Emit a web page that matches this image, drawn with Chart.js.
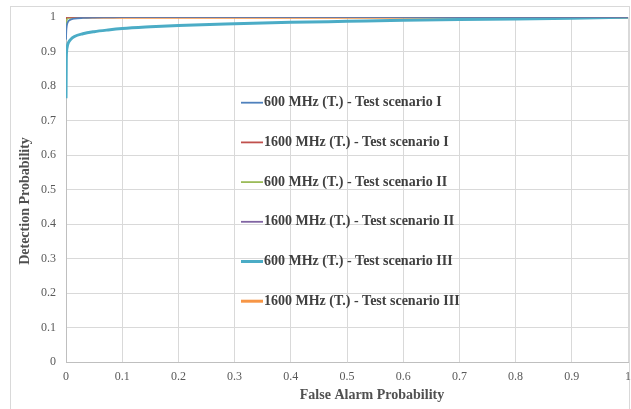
<!DOCTYPE html>
<html>
<head>
<meta charset="utf-8">
<script src="https://cdn.jsdelivr.net/npm/chart.js@4/dist/chart.umd.min.js"></script>
<style>
  html, body { margin: 0; padding: 0; background: #fff; }
  #wrap { width: 631px; height: 409px; position: relative; }
</style>
</head>
<body>
<div id="wrap"><canvas id="rocChart" width="631" height="409"></canvas></div>
<script>
// false alarm probability samples (shared by every curve)
const falseAlarm = [0, 0.0005, 0.001, 0.002, 0.004, 0.008, 0.015, 0.03, 0.05, 0.075, 0.1, 0.15, 0.2, 0.3, 0.4, 0.5, 0.6, 0.7, 0.8, 0.9, 1];

const pd600_I    = [0.935, 0.96, 0.97, 0.98, 0.988, 0.993, 0.996, 0.998, 0.999, 0.9995, 1, 1, 1, 1, 1, 1, 1, 1, 1, 1, 1];
const pd1600_I   = [0.995, 0.999, 1, 1, 1, 1, 1, 1, 1, 1, 1, 1, 1, 1, 1, 1, 1, 1, 1, 1, 1];
const pd600_II   = [0.97, 0.985, 0.99, 0.995, 0.998, 0.999, 1, 1, 1, 1, 1, 1, 1, 1, 1, 1, 1, 1, 1, 1, 1];
const pd1600_II  = [0.998, 1, 1, 1, 1, 1, 1, 1, 1, 1, 1, 1, 1, 1, 1, 1, 1, 1, 1, 1, 1];
const pd600_III  = [0.765, 0.875, 0.9, 0.913, 0.925, 0.935, 0.944, 0.952, 0.958, 0.963, 0.967, 0.972, 0.976, 0.981, 0.985, 0.988, 0.991, 0.993, 0.995, 0.997, 1.0];
const pd1600_III = [1, 1, 1, 1, 1, 1, 1, 1, 1, 1, 1, 1, 1, 1, 1, 1, 1, 1, 1, 1, 1];

const seriesNames = [
  '600 MHz (T.) - Test scenario I',
  '1600 MHz (T.) - Test scenario I',
  '600 MHz (T.) - Test scenario II',
  '1600 MHz (T.) - Test scenario II',
  '600 MHz (T.) - Test scenario III',
  '1600 MHz (T.) - Test scenario III'
];
const seriesData = [pd600_I, pd1600_I, pd600_II, pd1600_II, pd600_III, pd1600_III];
const seriesColors = ['#4F81BD', '#C0504D', '#9BBB59', '#8064A2', '#4BACC6', '#F79646'];
const seriesWidths = [1.8, 1.8, 1.8, 1.8, 3, 3];

const xTicks = [0, 0.1, 0.2, 0.3, 0.4, 0.5, 0.6, 0.7, 0.8, 0.9, 1];
const yTicks = [0, 0.1, 0.2, 0.3, 0.4, 0.5, 0.6, 0.7, 0.8, 0.9, 1];

const serif = '"Liberation Serif", "Times New Roman", serif';

const datasets = seriesNames.map((name, i) => ({
  label: name,
  data: falseAlarm.map((fa, j) => ({ x: fa, y: seriesData[i][j] })),
  borderColor: seriesColors[i],
  backgroundColor: seriesColors[i],
  borderWidth: seriesWidths[i],
  pointRadius: 0,
  fill: false,
  cubicInterpolationMode: 'monotone'
}));

// frame, legend and axis titles drawn by hand
const decor = {
  id: 'decor',
  beforeDraw(chart) {
    const ctx = chart.ctx;
    ctx.save();
    ctx.strokeStyle = '#d9d9d9';
    ctx.lineWidth = 1;
    ctx.strokeRect(10.5, 6.5, 619, 410);
    ctx.restore();
  },
  afterDraw(chart) {
    const ctx = chart.ctx;
    const area = chart.chartArea;
    ctx.save();

    // legend
    ctx.font = 'bold 14px ' + serif;
    ctx.fillStyle = '#404040';
    ctx.textBaseline = 'middle';
    ctx.textAlign = 'left';
    const lx = area.left + 175;
    chart.data.datasets.forEach((ds, i) => {
      const ly = area.top + 85.5 + i * 39.7;
      ctx.strokeStyle = ds.borderColor;
      ctx.lineWidth = ds.borderWidth;
      ctx.beginPath();
      ctx.moveTo(lx, ly);
      ctx.lineTo(lx + 22, ly);
      ctx.stroke();
      ctx.fillText(ds.label, lx + 23, ly);
    });

    // axis titles
    ctx.fillStyle = '#505050';
    ctx.textAlign = 'center';
    ctx.fillText('False Alarm Probability', 372, 395);
    ctx.translate(25, 201);
    ctx.rotate(-Math.PI / 2);
    ctx.fillText('Detection Probability', 0, 0);
    ctx.restore();
  }
};

new Chart(document.getElementById('rocChart').getContext('2d'), {
  type: 'line',
  data: { datasets: datasets },
  options: {
    responsive: false,
    animation: false,
    layout: { padding: { left: 11, right: 3, top: 17, bottom: 0 } },
    plugins: { legend: { display: false }, tooltip: { enabled: false } },
    scales: {
      x: {
        type: 'linear',
        min: 0,
        max: 1,
        afterBuildTicks: s => { s.ticks = xTicks.map(v => ({ value: v })); },
        afterFit: s => { s.height = 47; s.paddingRight = 0; s.paddingLeft = 0; },
        grid: { color: '#d9d9d9', drawTicks: false },
        border: { color: '#bfbfbf' },
        ticks: {
          padding: 8,
          color: '#595959',
          font: { family: serif, size: 12 },
          maxRotation: 0,
          callback: v => String(Math.round(v * 10) / 10)
        }
      },
      y: {
        min: 0,
        max: 1,
        afterBuildTicks: s => { s.ticks = yTicks.map(v => ({ value: v })); },
        afterFit: s => { s.width = 55; },
        grid: { color: '#d9d9d9', drawTicks: false },
        border: { color: '#bfbfbf' },
        ticks: {
          padding: 10,
          color: '#595959',
          font: { family: serif, size: 12 },
          callback: v => String(Math.round(v * 10) / 10)
        }
      }
    }
  },
  plugins: [decor]
});
</script>
</body>
</html>
